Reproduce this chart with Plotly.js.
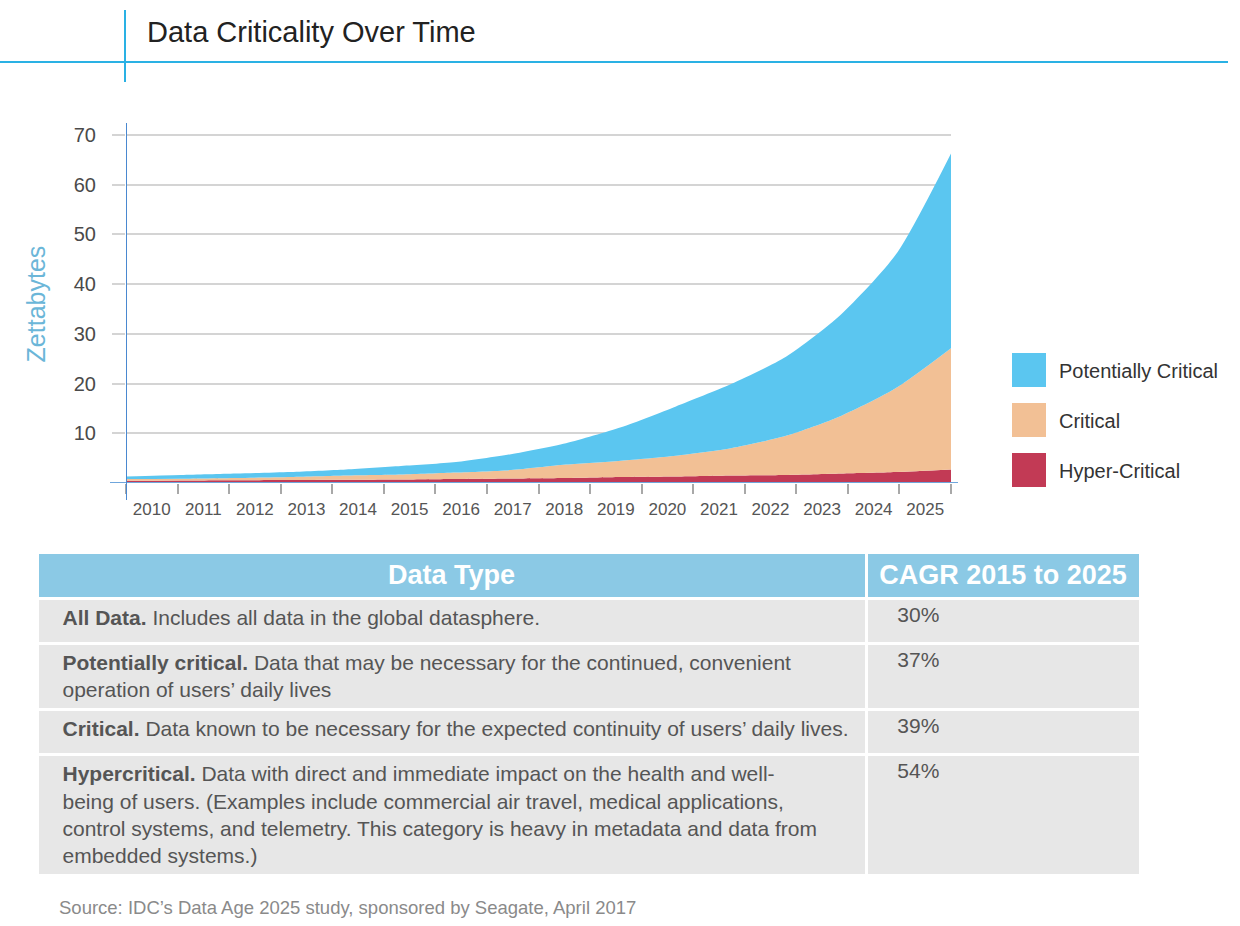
<!DOCTYPE html>
<html>
<head>
<meta charset="utf-8">
<script src="https://cdn.plot.ly/plotly-3.0.1.min.js"></script>
<style>
  html, body { margin: 0; padding: 0; background: #ffffff; }
  #chart { width: 1240px; height: 926px; }
</style>
</head>
<body>
<div id="chart"></div>
<script>
// ---- Data ----
const years = [2010, 2011, 2012, 2013, 2014, 2015, 2016, 2017, 2018, 2019, 2020, 2021, 2022, 2023, 2024, 2025];
const hyperCritical = [0.45, 0.5, 0.55, 0.6, 0.65, 0.7, 0.8, 0.9, 1.0, 1.2, 1.3, 1.5, 1.6, 1.9, 2.2, 2.7];
const critical = [0.35, 0.35, 0.45, 0.6, 0.85, 1.0, 1.3, 1.7, 2.7, 3.3, 4.2, 5.5, 7.9, 11.6, 16.9, 24.4];
const potentiallyCritical = [0.5, 0.75, 0.9, 1.0, 1.2, 1.7, 2.1, 3.2, 4.3, 6.7, 9.9, 12.9, 15.9, 20.4, 26.9, 39.2];
const seriesNames = ['Hyper-Critical', 'Critical', 'Potentially Critical'];
const yTickValues = [10, 20, 30, 40, 50, 60, 70];

const tableHeader = ['Data Type', 'CAGR 2015 to 2025'];
const dataTypeNames = ['All Data.', 'Potentially critical.', 'Critical.', 'Hypercritical.'];
const dataTypeDescriptions = [
  'Includes all data in the global datasphere.',
  'Data that may be necessary for the continued, convenient<br>operation of users\u2019 daily lives',
  'Data known to be necessary for the expected continuity of users\u2019 daily lives.',
  'Data with direct and immediate impact on the health and well-<br>being of users. (Examples include commercial air travel, medical applications,<br>control systems, and telemetry. This category is heavy in metadata and data from<br>embedded systems.)'
];
const cagr = ['30%', '37%', '39%', '54%'];

const chartTitle = 'Data Criticality Over Time';
const yTitle = 'Zettabytes';
const sourceNote = 'Source: IDC\u2019s Data Age 2025 study, sponsored by Seagate, April 2017';

// ---- Styling ----
const FONT = 'Liberation Sans, Arial, Helvetica, sans-serif';
const colors = { 'Hyper-Critical': '#c23a55', 'Critical': '#f2c095', 'Potentially Critical': '#5bc6f0' };
const W = 1240, H = 926;
const px = v => v / W;          // pixel -> paper x
const py = v => 1 - v / H;      // pixel -> paper y

const seriesValues = [hyperCritical, critical, potentiallyCritical];
const traces = seriesNames.map((name, i) => ({
  type: 'scatter',
  mode: 'lines',
  name: name,
  x: years,
  y: seriesValues[i],
  stackgroup: 'one',
  line: { width: 0, shape: 'spline', smoothing: 0.7 },
  fillcolor: colors[name],
  showlegend: false,
  hoverinfo: 'x+y+name',
  xaxis: 'x',
  yaxis: 'y'
}));

// empty helper trace so the year-label axis (centred between boundary ticks) is drawn
traces.push({ type: 'scatter', mode: 'lines', x: [], y: [], xaxis: 'x2', yaxis: 'y', showlegend: false, hoverinfo: 'skip' });

const NB = '\u00a0';
const PAD1 = NB + NB + NB;
const PAD2 = NB + NB + NB + NB;
const padLines = (s, pad) => s.split('<br>').map(l => pad + l).join('<br>');
const keepTogether = s => s.split(' ').join(NB);
const col1 = dataTypeNames.map((n, i) => padLines('<b>' + n + '</b> ' + dataTypeDescriptions[i], PAD1));
const col2 = cagr.map(v => padLines(v, PAD2));

traces.push({
  type: 'table',
  domain: { x: [px(37), px(1140)], y: [py(905), py(552)] },
  columnwidth: [829, 274],
  header: {
    values: tableHeader.map(h => '<b>' + keepTogether(h) + '</b>'),
    align: 'center',
    height: 44,
    fill: { color: '#8bc9e5' },
    line: { color: '#ffffff', width: 3 },
    font: { family: FONT, size: 27, color: '#ffffff' }
  },
  cells: {
    values: [col1, col2],
    align: 'left',
    height: 45,
    fill: { color: '#e7e7e7' },
    line: { color: '#ffffff', width: 3 },
    font: { family: FONT, size: 21, color: '#555555' }
  }
});

// Legend drawn as swatches + labels
const legendOrder = ['Potentially Critical', 'Critical', 'Hyper-Critical'];
const legendTops = [353, 403, 453];
const shapes = [];
const annotations = [];
legendOrder.forEach((name, i) => {
  shapes.push({
    type: 'rect', xref: 'paper', yref: 'paper',
    x0: px(1012), x1: px(1046), y0: py(legendTops[i] + 34), y1: py(legendTops[i]),
    fillcolor: colors[name], line: { width: 0 }
  });
  annotations.push({
    xref: 'paper', yref: 'paper', x: px(1057), y: py(legendTops[i] + 18),
    xanchor: 'left', yanchor: 'middle', showarrow: false, text: name,
    font: { family: FONT, size: 20, color: '#333333' }
  });
});

// Header rule lines
shapes.push({ type: 'line', xref: 'paper', yref: 'paper', x0: 0, x1: px(1228), y0: py(62), y1: py(62), line: { color: '#2ab1e4', width: 2 } });
shapes.push({ type: 'line', xref: 'paper', yref: 'paper', x0: px(125), x1: px(125), y0: py(10), y1: py(82), line: { color: '#2ab1e4', width: 2 } });
// Axis lines
shapes.push({ type: 'line', xref: 'paper', yref: 'y', x0: px(110), x1: px(958), y0: 0, y1: 0, line: { color: '#6fa6dc', width: 2 } });
shapes.push({ type: 'line', xref: 'x', yref: 'paper', x0: years[0], x1: years[0], y0: py(500), y1: py(123), line: { color: '#4a88d0', width: 2 } });

annotations.push({
  xref: 'paper', yref: 'paper', x: px(57), y: py(907), xanchor: 'left', yanchor: 'middle',
  showarrow: false, text: sourceNote, font: { family: FONT, size: 18.5, color: '#8a8a8a' }
});

const layout = {
  width: W, height: H,
  margin: { l: 0, r: 0, t: 0, b: 0 },
  paper_bgcolor: '#ffffff',
  plot_bgcolor: 'rgba(0,0,0,0)',
  font: { family: FONT },
  title: {
    text: chartTitle, x: px(147), xanchor: 'left', y: py(32), yanchor: 'middle',
    font: { family: FONT, size: 29, color: '#222222' }
  },
  xaxis: {
    domain: [px(126), px(951)],
    range: [years[0], years[years.length - 1]],
    visible: false,
    fixedrange: true
  },
  xaxis2: {
    overlaying: 'x', anchor: 'y', side: 'bottom',
    domain: [px(126), px(951)],
    range: [years[0] - 0.5, years[years.length - 1] + 0.5],
    tickvals: years, ticktext: years.map(String),
    ticks: '', showgrid: false, zeroline: false, showline: false,
    ticklabelstandoff: 14,
    tickfont: { family: FONT, size: 17, color: '#555555' },
    minor: { ticks: 'outside', ticklen: 10, tickwidth: 2, tickcolor: '#a8a8a8', tick0: years[0] - 0.5, dtick: 1, showgrid: false },
    fixedrange: true
  },
  yaxis: {
    domain: [py(483), py(125.1)],
    range: [0, 72],
    tickvals: yTickValues,
    showgrid: true, gridcolor: '#d4d4d4', gridwidth: 2,
    ticks: 'outside', ticklen: 13, tickwidth: 2, tickcolor: '#d4d4d4',
    ticklabelstandoff: 12,
    zeroline: false, showline: false,
    tickfont: { family: FONT, size: 20, color: '#4a4a4a' },
    title: { text: yTitle, standoff: 20, font: { family: FONT, size: 25, color: '#6bb6d8' } },
    automargin: false,
    fixedrange: true
  },
  shapes: shapes,
  annotations: annotations,
  showlegend: false
};

Plotly.newPlot('chart', traces, layout, { displayModeBar: false, staticPlot: true });
</script>
</body>
</html>
